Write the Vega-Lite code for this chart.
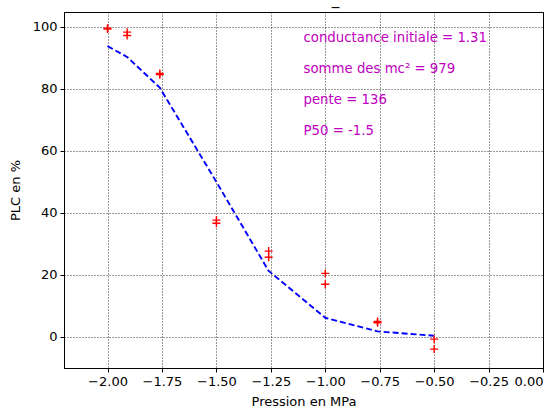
{
  "$schema": "https://vega.github.io/schema/vega-lite/v6.json",
  "width": 479,
  "height": 356,
  "autosize": {"type": "none"},
  "padding": {"left": 64, "top": 12, "right": 17, "bottom": 44},
  "background": "white",
  "title": {"text": "_", "dx": 32, "offset": 5, "fontSize": 15, "font": "DejaVu Sans", "fontWeight": "normal", "color": "black"},
  "datasets": {
    "points": [
      {"P": -2.0, "PLC": 99.6}, {"P": -2.0, "PLC": 99.3},
      {"P": -1.91, "PLC": 98.3}, {"P": -1.91, "PLC": 97.2},
      {"P": -1.76, "PLC": 85.0}, {"P": -1.76, "PLC": 84.6},
      {"P": -1.5, "PLC": 37.7}, {"P": -1.5, "PLC": 36.7},
      {"P": -1.26, "PLC": 27.7}, {"P": -1.26, "PLC": 25.7},
      {"P": -1.0, "PLC": 20.5}, {"P": -1.0, "PLC": 17.0},
      {"P": -0.76, "PLC": 5.0}, {"P": -0.76, "PLC": 4.6},
      {"P": -0.5, "PLC": -0.7}, {"P": -0.5, "PLC": -3.9}
    ],
    "fit": [
      {"P": -2.0, "PLC": 93.8},
      {"P": -1.91, "PLC": 90.3},
      {"P": -1.76, "PLC": 80.4},
      {"P": -1.5, "PLC": 50.0},
      {"P": -1.26, "PLC": 21.3},
      {"P": -1.0, "PLC": 6.2},
      {"P": -0.76, "PLC": 1.8},
      {"P": -0.5, "PLC": 0.4}
    ],
    "notes": [
      {"P": -1.1, "PLC": 95, "label": "conductance initiale = 1.31"},
      {"P": -1.1, "PLC": 85, "label": "somme des mc² = 979"},
      {"P": -1.1, "PLC": 75, "label": "pente = 136"},
      {"P": -1.1, "PLC": 65, "label": "P50 = -1.5"}
    ]
  },
  "config": {
    "font": "DejaVu Sans",
    "view": {"stroke": "black", "strokeWidth": 1},
    "axis": {
      "domainColor": "black",
      "tickColor": "black",
      "tickSize": 4,
      "labelColor": "black",
      "labelFontSize": 13,
      "labelFont": "DejaVu Sans",
      "titleFont": "DejaVu Sans",
      "titleFontSize": 13,
      "titleFontWeight": "normal",
      "titleColor": "black",
      "gridColor": "black",
      "gridDash": [1, 2],
      "gridWidth": 0.8,
      "gridOpacity": 1
    }
  },
  "layer": [
    {
      "data": {"name": "fit"},
      "mark": {"type": "line", "color": "#0000ff", "strokeWidth": 1.9, "strokeDash": [6, 3]},
      "encoding": {
        "x": {"field": "P", "type": "quantitative", "scale": {"domain": [-2.2, 0], "nice": false, "zero": false},
              "axis": {"values": [-2.0, -1.75, -1.5, -1.25, -1.0, -0.75, -0.5, -0.25, 0.0], "format": ".2f", "title": "Pression en MPa", "labelPadding": 3, "titlePadding": 7}},
        "y": {"field": "PLC", "type": "quantitative", "scale": {"domain": [-10, 104.8], "nice": false, "zero": false},
              "axis": {"values": [0, 20, 40, 60, 80, 100], "title": "PLC en %", "labelPadding": 3, "titlePadding": 10}}
      }
    },
    {
      "data": {"name": "points"},
      "mark": {"type": "point", "shape": "M-1,0L1,0M0,-1L0,1", "size": 64, "color": "#ff0000", "strokeWidth": 1.4, "filled": false, "opacity": 1},
      "encoding": {
        "x": {"field": "P", "type": "quantitative"},
        "y": {"field": "PLC", "type": "quantitative"}
      }
    },
    {
      "data": {"name": "notes"},
      "mark": {"type": "text", "align": "left", "baseline": "alphabetic", "color": "#bf00bf", "fontSize": 13.3, "font": "DejaVu Sans"},
      "encoding": {
        "x": {"field": "P", "type": "quantitative"},
        "y": {"field": "PLC", "type": "quantitative"},
        "text": {"field": "label"}
      }
    }
  ]
}
